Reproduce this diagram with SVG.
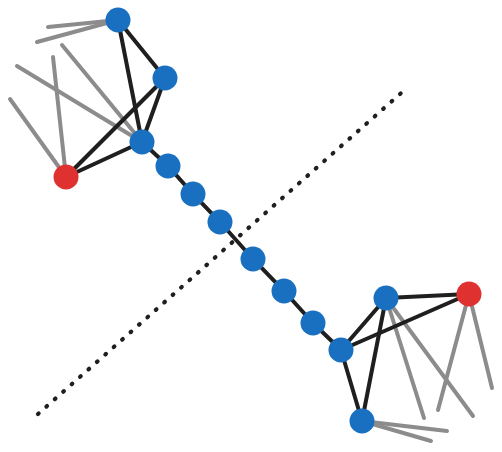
<svg xmlns="http://www.w3.org/2000/svg" width="502" height="452" viewBox="0 0 502 452">
<style>
.g{stroke:#8c8c8c;stroke-width:4;stroke-linecap:round;fill:none}
.k{stroke:#1f1f1f;stroke-width:4;stroke-linecap:round;fill:none}
.d{stroke:#1f1f1f;stroke-width:4.2;stroke-linecap:round;stroke-dasharray:0.8 10.437;fill:none}
.b{fill:#1a70c0}
.r{fill:#e03131}
</style>
<rect width="502" height="452" fill="#fff"/>
<g id="connectors">
<line class="d" x1="38" y1="414" x2="400.97" y2="93.14"/>
<line class="g" x1="118" y1="20" x2="48" y2="27"/>
<line class="g" x1="118" y1="20" x2="37" y2="42"/>
<line class="g" x1="66" y1="177" x2="10" y2="99"/>
<line class="g" x1="66" y1="177" x2="53" y2="57"/>
<line class="g" x1="142" y1="142" x2="17" y2="66"/>
<line class="g" x1="142" y1="142" x2="62" y2="45"/>
<line class="g" x1="386" y1="298" x2="424" y2="418"/>
<line class="g" x1="386" y1="298" x2="473" y2="416"/>
<line class="g" x1="469" y1="294" x2="438" y2="410"/>
<line class="g" x1="469" y1="294" x2="492" y2="388"/>
<line class="g" x1="362" y1="421" x2="447" y2="431"/>
<line class="g" x1="362" y1="421" x2="431" y2="441"/>
<line class="k" x1="118" y1="20" x2="165" y2="78"/>
<line class="k" x1="118" y1="20" x2="142" y2="142"/>
<line class="k" x1="165" y1="78" x2="142" y2="142"/>
<line class="k" x1="165" y1="78" x2="66" y2="177"/>
<line class="k" x1="142" y1="142" x2="66" y2="177"/>
<polyline class="k" points="142,142 168,166 193,194 220,222 253,259 284,291 313,323 341,350"/>
<line class="k" x1="386" y1="298" x2="469" y2="294"/>
<line class="k" x1="386" y1="298" x2="341" y2="350"/>
<line class="k" x1="469" y1="294" x2="341" y2="350"/>
<line class="k" x1="386" y1="298" x2="362" y2="421"/>
<line class="k" x1="341" y1="350" x2="362" y2="421"/>
</g>
<g id="n1"><circle class="b" cx="118" cy="20" r="12.5"/></g>
<g id="n2"><circle class="b" cx="165" cy="78" r="12.5"/></g>
<g id="n3"><circle class="b" cx="142" cy="142" r="12.5"/></g>
<g id="n4"><circle class="r" cx="66" cy="177" r="12.5"/></g>
<g id="n5"><circle class="b" cx="168" cy="166" r="12.5"/></g>
<g id="n6"><circle class="b" cx="193" cy="194" r="12.5"/></g>
<g id="n7"><circle class="b" cx="220" cy="222" r="12.5"/></g>
<g id="n8"><circle class="b" cx="253" cy="259" r="12.5"/></g>
<g id="n9"><circle class="b" cx="284" cy="291" r="12.5"/></g>
<g id="n10"><circle class="b" cx="313" cy="323" r="12.5"/></g>
<g id="n11"><circle class="b" cx="341" cy="350" r="12.5"/></g>
<g id="n12"><circle class="b" cx="386" cy="298" r="12.5"/></g>
<g id="n13"><circle class="r" cx="469" cy="294" r="12.5"/></g>
<g id="n14"><circle class="b" cx="362" cy="421" r="12.5"/></g>
</svg>
